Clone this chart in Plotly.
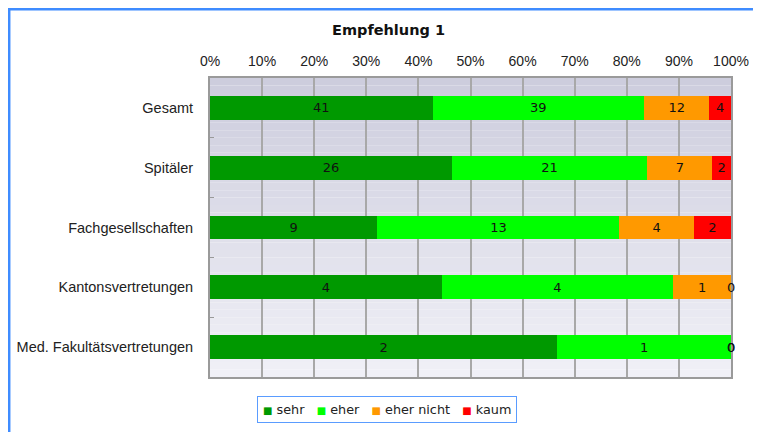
import plotly.graph_objects as go

categories = ["Gesamt", "Spitäler", "Fachgesellschaften", "Kantonsvertretungen", "Med. Fakultätsvertretungen"]
series_names = ["sehr", "eher", "eher nicht", "kaum"]
sehr = [41, 26, 9, 4, 2]
eher = [39, 21, 13, 4, 1]
eher_nicht = [12, 7, 4, 1, 0]
kaum = [4, 2, 2, 0, 0]
colors = ["#009900", "#00ff00", "#ff9900", "#ff0000"]
x_ticks = [0, 10, 20, 30, 40, 50, 60, 70, 80, 90, 100]

series = [sehr, eher, eher_nicht, kaum]

# figure geometry (page has an 8px body margin)
W, H = 753, 424
ML, MR, MT, MB = 202, 30, 70, 55
PW, PH = W - ML - MR, H - MT - MB


def px_x(x):  # figure px -> paper x
    return (x - ML) / PW


def px_y(y):  # figure px (from top) -> paper y
    return 1 + (MT - y) / PH


fig = go.Figure()
for name, vals, col in zip(series_names, series, colors):
    fig.add_trace(go.Bar(
        y=categories, x=vals, name=name, orientation="h",
        marker=dict(color=col, line=dict(width=0)),
        text=[str(v) if v > 0 else "" for v in vals],
        textposition="inside", insidetextanchor="middle",
        textangle=0, constraintext="none",
        textfont=dict(family="DejaVu Sans", size=13, color="#111111"),
        showlegend=False,
    ))

# labels for zero-valued segments at their cumulative position
annotations = []
totals = [sum(s[i] for s in series) for i in range(len(categories))]
for i, cat in enumerate(categories):
    cum = 0
    for vals in series:
        cum += vals[i]
        if vals[i] == 0:
            annotations.append(dict(
                x=cum / totals[i] * 100, y=cat, xref="x", yref="y",
                text="0", showarrow=False, xanchor="center",
                font=dict(family="DejaVu Sans", size=13, color="#111111")))

# vertical gradient background
shapes = []
n = 40
c0 = (205, 205, 221)
c1 = (240, 240, 247)
for k in range(n):
    t = k / (n - 1)
    c = tuple(int(round(c0[j] + (c1[j] - c0[j]) * t)) for j in range(3))
    shapes.append(dict(type="rect", xref="x domain", yref="y domain",
                       x0=0, x1=1, y0=1 - (k + 1) / n, y1=1 - k / n,
                       fillcolor="rgb(%d,%d,%d)" % c, line=dict(width=0),
                       layer="below"))
# blue frame (left and top)
shapes.append(dict(type="line", xref="paper", yref="paper", x0=px_x(1.2), x1=px_x(1.2),
                   y0=px_y(H + 5), y1=px_y(-5), line=dict(color="#3f8cff", width=2.5)))
shapes.append(dict(type="line", xref="paper", yref="paper", x0=px_x(-5), x1=px_x(W + 5),
                   y0=px_y(1.2), y1=px_y(1.2), line=dict(color="#3f8cff", width=2.5)))

annotations.append(dict(text="<b>Empfehlung 1</b>", xref="paper", yref="paper",
                        x=px_x(380), y=px_y(22), showarrow=False, xanchor="center",
                        yanchor="middle",
                        font=dict(family="DejaVu Sans", size=14.5, color="#111111")))

# legend built as a boxed text line
legend_parts = []
for name, col in zip(series_names, colors):
    legend_parts.append('<span style="color:%s;font-size:10px">■</span> %s' % (col, name))
legend_text = "   ".join(legend_parts).replace("   ", "\u00a0\u00a0\u00a0")
annotations.append(dict(text=legend_text, xref="paper", yref="paper",
                        x=px_x(379), y=px_y(388), xanchor="center", yanchor="top",
                        showarrow=False, bordercolor="#5a9cff", borderwidth=1,
                        borderpad=5, bgcolor="white",
                        font=dict(family="DejaVu Sans", size=12.8, color="#222222")))

fig.update_layout(
    width=W, height=H,
    margin=dict(l=ML, r=MR, t=MT, b=MB),
    barmode="stack", barnorm="percent", bargap=0.6,
    paper_bgcolor="white", plot_bgcolor="rgba(0,0,0,0)",
    shapes=shapes, annotations=annotations,
    showlegend=False,
    xaxis=dict(range=[0, 100], side="top", tickvals=x_ticks,
               ticktext=["%d%%" % v for v in x_ticks],
               showgrid=True, gridcolor="#a8a8a8", gridwidth=1.5,
               showline=True, linecolor="#9a9a9a", linewidth=2, mirror=True,
               ticks="", zeroline=False, automargin=False, ticklabelstandoff=4,
               tickfont=dict(family="Liberation Sans", size=14, color="#222222")),
    yaxis=dict(autorange="reversed", showgrid=False, automargin=False,
               showline=True, linecolor="#9a9a9a", linewidth=2, mirror=True,
               ticks="inside", tickson="boundaries", ticklen=4, tickcolor="#9a9a9a",
               ticklabelstandoff=12,
               tickfont=dict(family="Liberation Sans", size=14.5, color="#222222")),
)

fig.write_html("out.html")
